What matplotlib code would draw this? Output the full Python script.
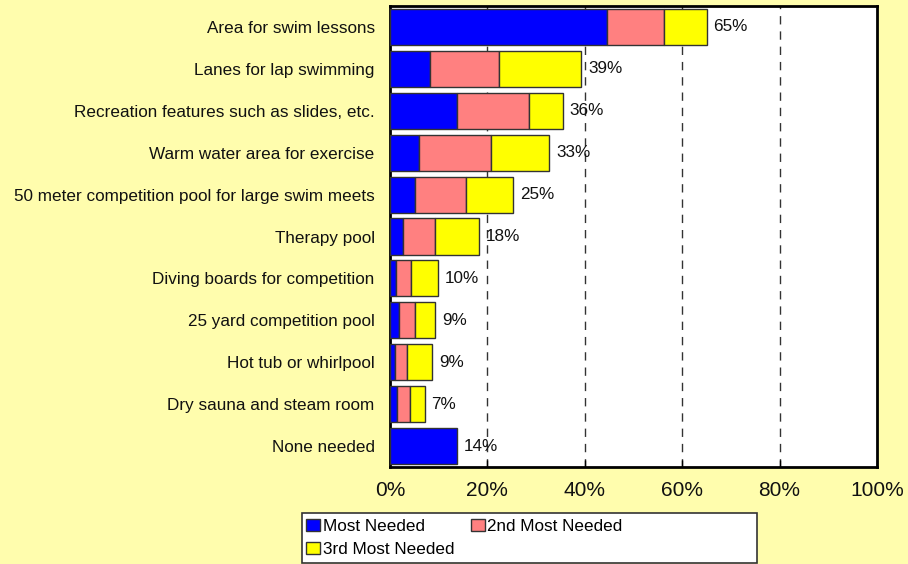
import matplotlib
matplotlib.use("Agg")
import matplotlib.pyplot as plt
from matplotlib.patches import Rectangle
from matplotlib.ticker import FuncFormatter

plt.rcParams["font.family"] = ["Liberation Sans", "DejaVu Sans"]

# data (percent of respondents)
categories = [
    "Area for swim lessons",
    "Lanes for lap swimming",
    "Recreation features such as slides, etc.",
    "Warm water area for exercise",
    "50 meter competition pool for large swim meets",
    "Therapy pool",
    "Diving boards for competition",
    "25 yard competition pool",
    "Hot tub or whirlpool",
    "Dry sauna and steam room",
    "None needed",
]
most_needed = [44.5, 8.3, 13.8, 6.0, 5.1, 2.7, 1.2, 1.9, 1.0, 1.5, 13.8]
second_needed = [11.8, 14.0, 14.8, 14.8, 10.6, 6.5, 3.1, 3.2, 2.5, 2.6, 0.0]
third_needed = [8.7, 17.0, 6.9, 11.9, 9.6, 9.0, 5.6, 4.2, 5.2, 3.0, 0.0]
total_labels = ["65%", "39%", "36%", "33%", "25%", "18%", "10%", "9%", "9%", "7%", "14%"]
series_names = ["Most Needed", "2nd Most Needed", "3rd Most Needed"]

bg = "#FFFDAD"
colors = ["#0000FF", "#FF8080", "#FFFF00"]

fig = plt.figure(figsize=(9.08, 5.64), dpi=100, facecolor=bg)
ax = fig.add_axes([390 / 908, 1 - 467 / 564, 487 / 908, 461 / 564])
ax.set_facecolor("white")

y = list(range(len(categories)))
left = [0.0] * len(categories)
handles = []
for vals, col, name in zip([most_needed, second_needed, third_needed], colors, series_names):
    bars = ax.barh(y, vals, left=left, height=0.86, color=col,
                   edgecolor="#333333", linewidth=1, label=name, zorder=3)
    # hide empty segments so no edge line shows
    for b, v in zip(bars, vals):
        if v <= 0:
            b.set_visible(False)
    handles.append(bars)
    left = [l + w for l, w in zip(left, vals)]

for yi, tot, lab in zip(y, left, total_labels):
    ax.annotate(lab, (tot, yi), xytext=(5, 0), textcoords="offset points",
                va="center", ha="left", fontsize=12.3, color="#111111", zorder=4)

ax.set_xlim(0, 100)
ax.set_ylim(len(categories) - 0.5, -0.5)
ax.set_yticks(y)
ax.set_yticklabels(categories, fontsize=12.3, color="#111111")
ax.set_xticks([0, 20, 40, 60, 80, 100])
ax.xaxis.set_major_formatter(FuncFormatter(lambda v, p: f"{v:.0f}%"))
ax.tick_params(axis="x", direction="in", length=5, width=1, labelsize=15, pad=10,
               labelcolor="#111111")
ax.tick_params(axis="y", length=0, pad=11)

for x in [20, 40, 60, 80]:
    ax.axvline(x, color="#333333", linewidth=1, dashes=(6, 5), zorder=1)

for s in ax.spines.values():
    s.set_color("black")
    s.set_linewidth(2)

# legend box in figure pixels
fig.patches.append(Rectangle((302 / 908, 1 - 563 / 564), 455 / 908, 50 / 564,
                             transform=fig.transFigure, facecolor="white",
                             edgecolor="#333333", linewidth=1.2, zorder=0))
order = [handles[0], handles[2], handles[1]]
labels = [series_names[0], series_names[2], series_names[1]]
fig.legend(order, labels, ncol=2, loc="upper left",
           bbox_to_anchor=(303 / 908, 1 - 516 / 564), frameon=False,
           fontsize=12.3, handlelength=0.8, handleheight=0.7, handletextpad=0.15,
           columnspacing=1.0, labelspacing=0.45, borderpad=0.2, borderaxespad=0)

fig.savefig("out.png", dpi=100, facecolor=bg)
